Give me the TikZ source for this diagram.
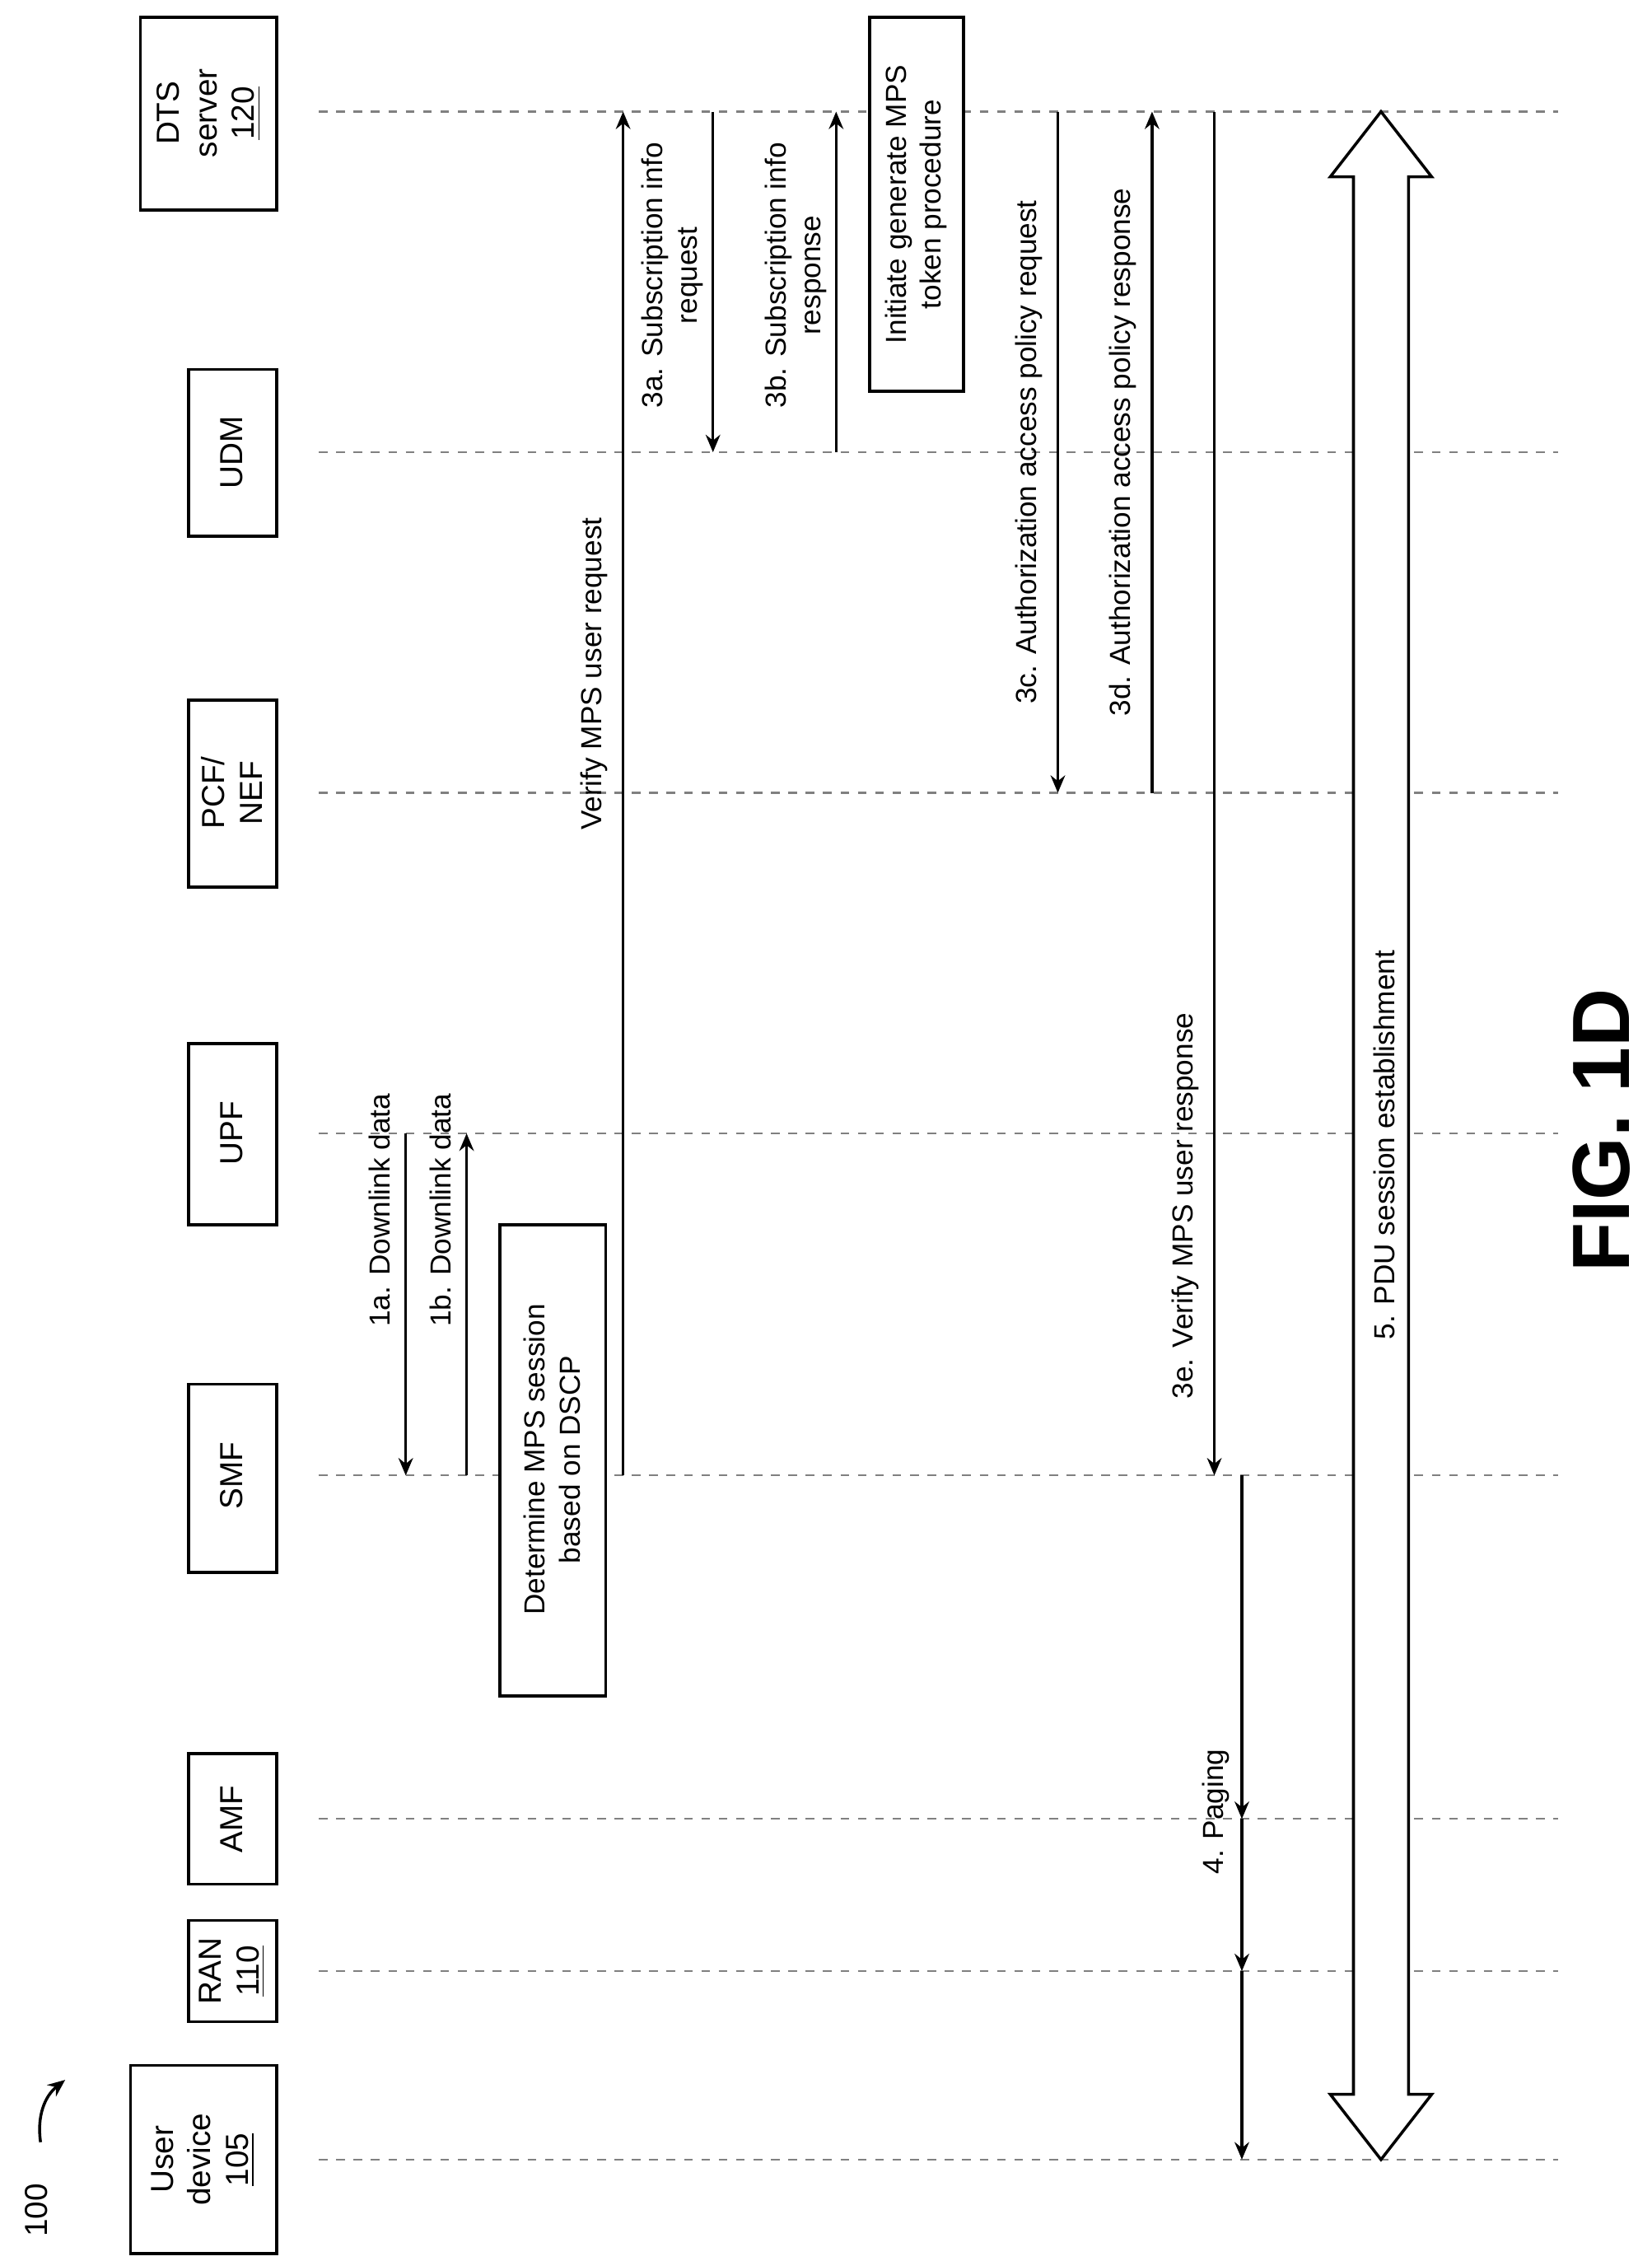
\documentclass[tikz,border=0pt]{standalone}
\usetikzlibrary{arrows.meta}
\usepackage{fontspec}
\setmainfont{Liberation Sans}
\begin{document}
\begin{tikzpicture}[x=0.5pt,y=-0.5pt,
 box/.style={draw,line width=1pt,fill=white,inner sep=0pt},
 lab/.style={rotate=90,font=\fontsize{10}{12}\selectfont,align=center,inner sep=1pt},
 big/.style={rotate=90,font=\fontsize{11}{13}\selectfont,align=center,inner sep=1pt},
 msg/.style={line width=1pt,-{Stealth[length=6pt,width=5pt]}},
 life/.style={gray,dashed,line width=0.6pt}]
\useasboundingbox (0,0) rectangle (1140,1560);
\foreach \n/\y in {dts/77,udm/312,pcf/547,upf/782,smf/1018,amf/1255,ran/1360,ue/1490}{
 \coordinate (L\n) at (220,\y);
 \draw[life] (220,\y) -- (1075,\y);}
% boxes
\draw[box] (97,12) rectangle (191,145); \node[big] (bdts) at (144,78) {DTS\\server\\\underline{120}};
\draw[box] (130,255) rectangle (191,370); \node[big] (budm) at (160,312) {UDM};
\draw[box] (130,483) rectangle (191,612); \node[big] (bpcf) at (160,547) {PCF/\\NEF};
\draw[box] (130,720) rectangle (191,845); \node[big] (bupf) at (160,782) {UPF};
\draw[box] (130,955) rectangle (191,1085); \node[big] (bsmf) at (160,1018) {SMF};
\draw[box] (130,1210) rectangle (191,1300); \node[big] (bamf) at (160,1255) {AMF};
\draw[box] (130,1325) rectangle (191,1395); \node[big] (bran) at (160,1360) {RAN\\\underline{110}};
\draw[box] (90,1425) rectangle (191,1555); \node[big] (bue) at (140,1490) {User\\device\\\underline{105}};
\node[big] (n100) at (25,1525) {100};
\draw[line width=1pt,-{Stealth[length=6pt,width=5pt]}] (28,1478) to[bend left=30] (45,1435);
% messages
\draw[msg] (280,782) -- (280,1018); \node[lab] (m1a) at (262,835) {1a. Downlink data};
\draw[msg] (322,1018) -- (322,782); \node[lab] (m1b) at (304,835) {1b. Downlink data};
\draw[box] (345,845) rectangle (418,1170); \node[lab] (det) at (381,1007) {Determine MPS session\\based on DSCP};
\draw[msg] (430,1018) -- (430,77); \node[lab] (vreq) at (410,465) {Verify MPS user request};
\draw[msg] (492,77) -- (492,312); \node[lab] (m3a) at (464,190) {3a. Subscription info\\request};
\draw[msg] (577,312) -- (577,77); \node[lab] (m3b) at (549,190) {3b. Subscription info\\response};
\draw[box] (600,12) rectangle (665,270); \node[lab] (init) at (632,141) {Initiate generate MPS\\token procedure};
\draw[msg] (730,77) -- (730,547); \node[lab] (m3c) at (710,312) {3c. Authorization access policy request};
\draw[msg] (795,547) -- (795,77); \node[lab] (m3d) at (775,312) {3d. Authorization access policy response};
\draw[msg] (838,77) -- (838,1018); \node[lab] (m3e) at (818,832) {3e. Verify MPS user response};
\draw[msg] (857,1018) -- (857,1255);
\draw[msg] (857,1255) -- (857,1360);
\draw[msg] (857,1360) -- (857,1490);
\node[lab] (m4) at (839,1250) {4. Paging};
\draw[line width=1pt,fill=white] (953,77) -- (988,122) -- (972,122) -- (972,1445) -- (988,1445) -- (953,1490) -- (918,1445) -- (934,1445) -- (934,122) -- (918,122) -- cycle;
\node[lab] (m5) at (955,790) {5. PDU session establishment};
\node[rotate=90,font=\bfseries\fontsize{28}{34}\selectfont] (fig) at (1105,780) {FIG. 1D};
\end{tikzpicture}
\end{document}
